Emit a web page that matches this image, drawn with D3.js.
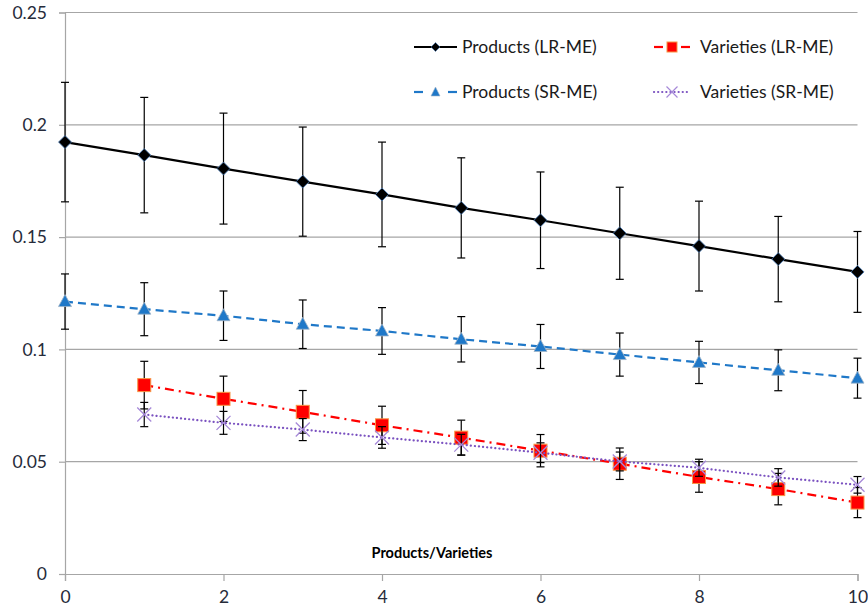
<!DOCTYPE html>
<html>
<head>
<meta charset="utf-8">
<script src="https://cdn.jsdelivr.net/npm/d3@7"></script>
<style>
	body { margin: 0; background: #fff; }
	svg { display: block; font-family: "Lato", "Open Sans", sans-serif; }
</style>
</head>
<body>
<svg width="868" height="611"></svg>
<script>
// x positions (number of products/varieties)
var xVals = [0, 1, 2, 3, 4, 5, 6, 7, 8, 9, 10];
var xVar = [1, 2, 3, 4, 5, 6, 7, 8, 9, 10];

// Products (LR-ME)
var prodLR = [0.1923, 0.1865, 0.1805, 0.1747, 0.169, 0.163, 0.1575, 0.1517, 0.146, 0.1402, 0.1345];
var prodLRErr = [0.0266, 0.0257, 0.0247, 0.0243, 0.0233, 0.0223, 0.0215, 0.0205, 0.02, 0.019, 0.018];
// Products (SR-ME)
var prodSR = [0.1213, 0.1179, 0.115, 0.1112, 0.1082, 0.1045, 0.1013, 0.0977, 0.0942, 0.0907, 0.0872];
var prodSRErr = [0.0123, 0.0118, 0.011, 0.0108, 0.0104, 0.0101, 0.0098, 0.0096, 0.0094, 0.0091, 0.0089];
// Varieties (LR-ME)
var varLR = [0.0841, 0.078, 0.0722, 0.0662, 0.0607, 0.0549, 0.0491, 0.0432, 0.0378, 0.0318];
var varLRErr = [0.0106, 0.0101, 0.0095, 0.0085, 0.0078, 0.0072, 0.007, 0.0068, 0.007, 0.0067];
// Varieties (SR-ME)
var varSR = [0.071, 0.0673, 0.0643, 0.0608, 0.0576, 0.054, 0.0501, 0.0473, 0.043, 0.0397];
var varSRErr = [0.0054, 0.0051, 0.0049, 0.0048, 0.0046, 0.0044, 0.0042, 0.0038, 0.0039, 0.0037];

var xTicks = [0, 2, 4, 6, 8, 10];
var yTicks = [0, 0.05, 0.1, 0.15, 0.2, 0.25];
var xTitle = "Products/Varieties";

var series = [
	{ name: "Products (LR-ME)", xs: xVals, ys: prodLR, err: prodLRErr, color: "#000", dash: null, marker: "diamond" },
	{ name: "Products (SR-ME)", xs: xVals, ys: prodSR, err: prodSRErr, color: "#1f78c8", dash: "8,5", marker: "triangle" },
	{ name: "Varieties (LR-ME)", xs: xVar, ys: varLR, err: varLRErr, color: "#ff0000", dash: "9,5,2,5", marker: "square" },
	{ name: "Varieties (SR-ME)", xs: xVar, ys: varSR, err: varSRErr, color: "#7b52c0", dash: "1.5,2.5", marker: "cross" }
];

var svg = d3.select("svg"),
	margin = { top: 12.5, right: 10.5, bottom: 37, left: 65 },
	width = +svg.attr("width") - margin.left - margin.right,
	height = +svg.attr("height") - margin.top - margin.bottom,
	g = svg.append("g").attr("transform", "translate(" + margin.left + "," + margin.top + ")");

var x = d3.scaleLinear().domain([0, 10]).range([0, width]);
var y = d3.scaleLinear().domain([0, 0.25]).range([height, 0]);

// gridlines
g.selectAll(".grid")
	.data(yTicks.slice(1))
	.enter()
	.append("line")
	.attr("x1", 0).attr("x2", width)
	.attr("y1", function (d) { return y(d) }).attr("y2", function (d) { return y(d) })
	.attr("stroke", "#a6a6a6").attr("stroke-width", 1.2);

var yAxis = g.append("g")
	.call(d3.axisLeft(y).tickValues(yTicks).tickSizeOuter(0).tickSize(6).tickPadding(12)
		.tickFormat(function (d) { return d === 0 ? "0" : String(+d.toFixed(2)) }));

var xAxis = g.append("g")
	.attr("transform", "translate(0," + height + ")")
	.call(d3.axisBottom(x).tickValues(xTicks).tickSizeOuter(0).tickSize(7).tickPadding(10));

[xAxis, yAxis].forEach(function (a) {
	a.select(".domain").attr("stroke", "#a6a6a6").attr("stroke-width", 1.2);
	a.selectAll(".tick line").attr("stroke", "#a6a6a6").attr("stroke-width", 1.2);
	a.selectAll(".tick text").attr("fill", "#262b3a").attr("font-size", "17.5px")
		.attr("font-family", "Lato, sans-serif");
});

// axis title
g.append("text")
	.attr("x", 432 - margin.left).attr("y", 558 - margin.top)
	.attr("text-anchor", "middle")
	.attr("font-size", "14.5px").attr("font-weight", "bold").attr("fill", "#000")
	.text(xTitle);

var line = d3.line()
	.x(function (d) { return x(d[0]) })
	.y(function (d) { return y(d[1]) });

function drawMarker(sel, type, cx, cy) {
	if (type === "diamond") {
		sel.append("path")
			.attr("d", "M" + cx + "," + (cy - 6.5) + "L" + (cx + 6.5) + "," + cy + "L" + cx + "," + (cy + 6.5) + "L" + (cx - 6.5) + "," + cy + "Z")
			.attr("fill", "#000").attr("stroke", "#4f81bd").attr("stroke-width", 0.8);
	} else if (type === "triangle") {
		sel.append("path")
			.attr("d", "M" + cx + "," + (cy - 7) + "L" + (cx + 6.5) + "," + (cy + 5) + "L" + (cx - 6.5) + "," + (cy + 5) + "Z")
			.attr("fill", "#1f78c8").attr("stroke", "#9fb4c8").attr("stroke-width", 0.8);
	} else if (type === "square") {
		sel.append("rect")
			.attr("x", cx - 6.5).attr("y", cy - 6.5).attr("width", 13).attr("height", 13)
			.attr("fill", "#ff0000").attr("stroke", "#f79646").attr("stroke-width", 1);
	} else if (type === "cross") {
		sel.append("path")
			.attr("d", "M" + (cx - 7) + "," + (cy - 7) + "L" + (cx + 7) + "," + (cy + 7) + "M" + (cx + 7) + "," + (cy - 7) + "L" + (cx - 7) + "," + (cy + 7))
			.attr("stroke", "#a689d8").attr("stroke-width", 1.3).attr("fill", "none");
	}
}

series.forEach(function (s) {
	var pts = s.xs.map(function (v, i) { return [v, s.ys[i], s.err[i]] });
	var sg = g.append("g");

	sg.append("path")
		.datum(pts)
		.attr("fill", "none")
		.attr("stroke", s.color)
		.attr("stroke-width", 2.2)
		.attr("stroke-linecap", s.marker === "cross" ? "round" : "butt")
		.attr("stroke-dasharray", s.marker === "cross" ? "0.1,4" : s.dash)
		.attr("d", line);

	// error bars
	var eb = sg.selectAll(".eb").data(pts).enter().append("g").attr("stroke", "#000").attr("stroke-width", 1.2);
	eb.append("line")
		.attr("x1", function (d) { return x(d[0]) }).attr("x2", function (d) { return x(d[0]) })
		.attr("y1", function (d) { return y(d[1] + d[2]) }).attr("y2", function (d) { return y(d[1] - d[2]) });
	eb.append("line")
		.attr("x1", function (d) { return x(d[0]) - 4 }).attr("x2", function (d) { return x(d[0]) + 4 })
		.attr("y1", function (d) { return y(d[1] + d[2]) }).attr("y2", function (d) { return y(d[1] + d[2]) });
	eb.append("line")
		.attr("x1", function (d) { return x(d[0]) - 4 }).attr("x2", function (d) { return x(d[0]) + 4 })
		.attr("y1", function (d) { return y(d[1] - d[2]) }).attr("y2", function (d) { return y(d[1] - d[2]) });

	pts.forEach(function (d) {
		drawMarker(sg, s.marker, x(d[0]), y(d[1]));
	});
});

// legend
var legendPos = [
	{ lx: 414, ty: 47 },
	{ lx: 414, ty: 92 },
	{ lx: 654, ty: 47 },
	{ lx: 654, ty: 92 }
];
var lg = svg.append("g");
series.forEach(function (s, i) {
	var p = legendPos[i];
	var len = i < 2 ? 43 : 36;
	var mid = p.lx + len / 2;
	var item = lg.append("g");
	if (s.marker === "triangle" || s.marker === "square") {
		// Excel legend: dash - marker - dash
		item.append("line").attr("x1", p.lx).attr("x2", p.lx + 9).attr("y1", p.ty).attr("y2", p.ty)
			.attr("stroke", s.color).attr("stroke-width", 2.2);
		item.append("line").attr("x1", p.lx + len - 9).attr("x2", p.lx + len).attr("y1", p.ty).attr("y2", p.ty)
			.attr("stroke", s.color).attr("stroke-width", 2.2);
	} else {
		item.append("line")
			.attr("x1", p.lx).attr("x2", p.lx + len)
			.attr("y1", p.ty).attr("y2", p.ty)
			.attr("stroke", s.color).attr("stroke-width", 2.2)
			.attr("stroke-linecap", s.marker === "cross" ? "round" : "butt")
			.attr("stroke-dasharray", s.marker === "cross" ? "0.1,4" : null);
	}
	var mk = item.append("g");
	if (s.marker === "diamond") {
		mk.append("path")
			.attr("d", "M" + mid + "," + (p.ty - 4.5) + "L" + (mid + 4.5) + "," + p.ty + "L" + mid + "," + (p.ty + 4.5) + "L" + (mid - 4.5) + "," + p.ty + "Z")
			.attr("fill", "#000").attr("stroke", "#4f81bd").attr("stroke-width", 0.6);
	} else if (s.marker === "triangle") {
		mk.append("path")
			.attr("d", "M" + mid + "," + (p.ty - 5) + "L" + (mid + 4.5) + "," + (p.ty + 4) + "L" + (mid - 4.5) + "," + (p.ty + 4) + "Z")
			.attr("fill", "#1f78c8").attr("stroke", "#9fb4c8").attr("stroke-width", 0.6);
	} else if (s.marker === "square") {
		mk.append("rect")
			.attr("x", mid - 5).attr("y", p.ty - 5).attr("width", 10).attr("height", 10)
			.attr("fill", "#ff0000").attr("stroke", "#f79646").attr("stroke-width", 1);
	} else {
		mk.append("path")
			.attr("d", "M" + (mid - 5.5) + "," + (p.ty - 5.5) + "L" + (mid + 5.5) + "," + (p.ty + 5.5) + "M" + (mid + 5.5) + "," + (p.ty - 5.5) + "L" + (mid - 5.5) + "," + (p.ty + 5.5))
			.attr("stroke", "#a689d8").attr("stroke-width", 1.2);
	}
	item.append("text")
		.attr("x", i < 2 ? p.lx + 48 : p.lx + 46).attr("y", p.ty + 6)
		.attr("font-size", "17.5px").attr("fill", "#1a1a1a")
		.text(s.name);
});
</script>
</body>
</html>
